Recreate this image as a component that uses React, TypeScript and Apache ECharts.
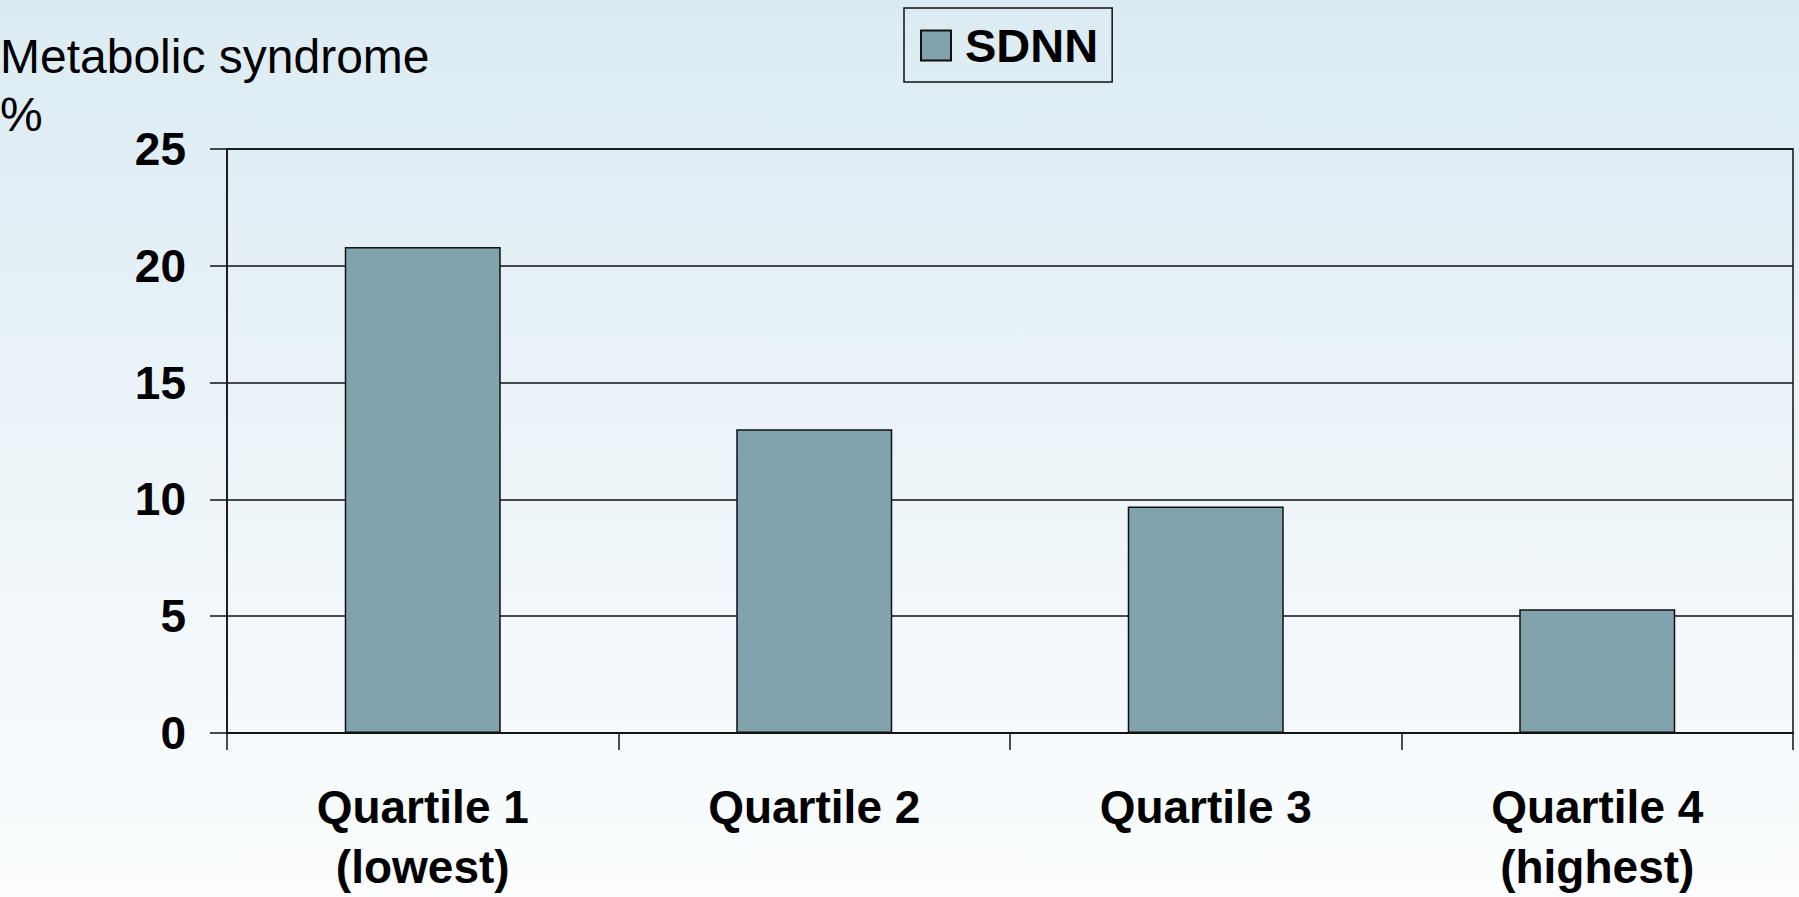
import React, { useEffect, useRef } from "react";
import * as echarts from "echarts";

const categories = ["Quartile 1\n(lowest)", "Quartile 2", "Quartile 3", "Quartile 4\n(highest)"];
const sdnnValues = [20.8, 13.0, 9.7, 5.3];
const seriesName = "SDNN";
const yTitleLines = ["Metabolic syndrome", "%"];

const FONT = "Arial, 'Liberation Sans', sans-serif";

export default function App() {
  const ref = useRef<HTMLDivElement>(null);
  useEffect(() => {
    if (!ref.current) return;
    const chart = echarts.init(ref.current, null, { renderer: "svg" });
    chart.setOption({
      animation: false,
      backgroundColor: {
        type: "linear",
        x: 0,
        y: 0,
        x2: 0,
        y2: 1,
        colorStops: [
          { offset: 0, color: "#dcebf3" },
          { offset: 1, color: "#fbfdfe" },
        ],
      },
      textStyle: { fontFamily: FONT },
      grid: {
        left: 227,
        top: 149,
        width: 1566,
        height: 585,
        show: true,
        borderColor: "#111",
        borderWidth: 1.5,
        backgroundColor: "transparent",
      },
      legend: {
        left: 904,
        top: 8,
        data: [seriesName],
        itemWidth: 30,
        itemHeight: 30,
        borderColor: "#111",
        borderWidth: 1.5,
        padding: [14, 14, 13, 16],
        icon: "rect",
        textStyle: {
          fontFamily: FONT,
          fontSize: 47,
          fontWeight: "bold",
          color: "#000",
          padding: [0, 0, 0, 9],
        },
      },
      graphic: [
        {
          type: "text",
          left: 0,
          top: 32,
          style: { text: yTitleLines[0], font: `48px ${FONT}`, fill: "#000" },
        },
        {
          type: "text",
          left: 0,
          top: 90,
          style: { text: yTitleLines[1], font: `48px ${FONT}`, fill: "#000" },
        },
      ],
      xAxis: {
        type: "category",
        data: categories,
        axisLine: { show: true, lineStyle: { color: "#111", width: 1.5 } },
        axisTick: { show: true, length: 17, lineStyle: { color: "#111", width: 1.5 } },
        axisLabel: {
          margin: 44,
          fontFamily: FONT,
          fontSize: 46,
          fontWeight: "bold",
          color: "#000",
          lineHeight: 60,
          interval: 0,
        },
      },
      yAxis: {
        type: "value",
        min: 0,
        max: 25,
        interval: 5,
        axisLine: { show: true, lineStyle: { color: "#111", width: 1.5 } },
        axisTick: { show: true, length: 17, lineStyle: { color: "#111", width: 1.5 } },
        splitLine: { show: true, lineStyle: { color: "#111", width: 1.5 } },
        axisLabel: {
          margin: 41,
          fontFamily: FONT,
          fontSize: 46,
          fontWeight: "bold",
          color: "#000",
        },
      },
      series: [
        {
          name: seriesName,
          type: "bar",
          data: sdnnValues,
          barWidth: 156,
          itemStyle: { color: "#80a3ad", borderColor: "#111", borderWidth: 1.5 },
        },
      ],
    });
    return () => chart.dispose();
  }, []);
  return (
    <div
      ref={ref}
      style={{ position: "fixed", left: 0, top: 0, width: 1799, height: 897 }}
    />
  );
}
